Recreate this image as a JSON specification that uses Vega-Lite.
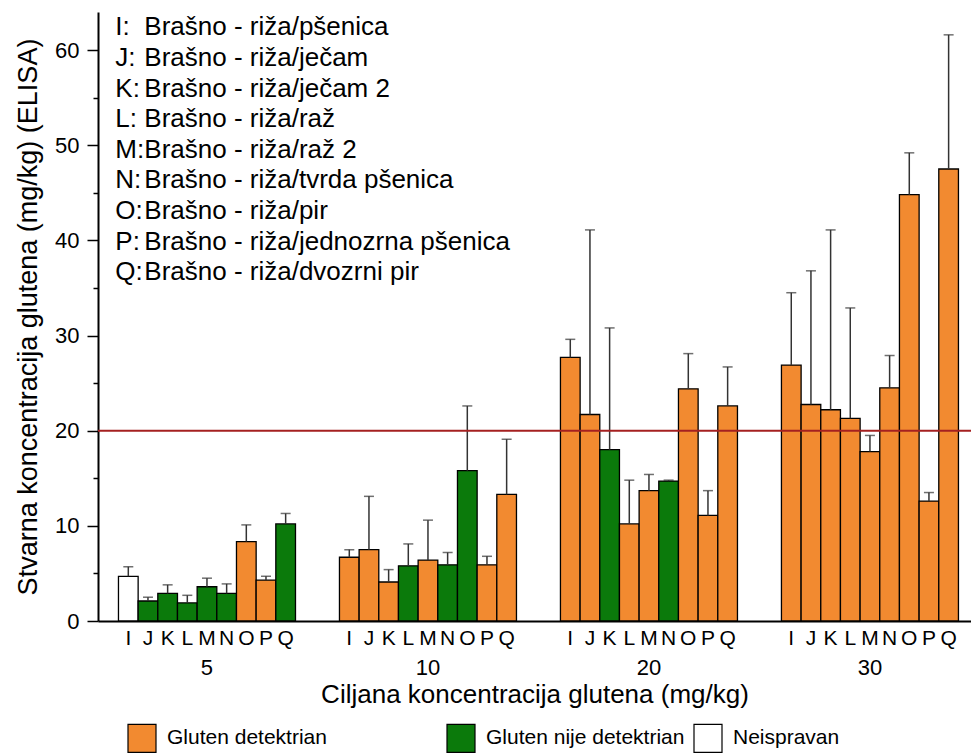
{
  "$schema": "https://vega.github.io/schema/vega-lite/v6.json",
  "width": 873,
  "height": 609,
  "autosize": "none",
  "padding": {"left": 98, "top": 12, "right": 0, "bottom": 132},
  "background": "white",
  "config": {"font": "Liberation Sans", "view": {"stroke": null}},
  "datasets": {
    "bars": [
      {"target": 5, "letter": "I", "value": 4.7, "upper": 5.7, "status": "Neispravan"},
      {"target": 5, "letter": "J", "value": 2.1, "upper": 2.5, "status": "Gluten nije detektrian"},
      {"target": 5, "letter": "K", "value": 2.9, "upper": 3.8, "status": "Gluten nije detektrian"},
      {"target": 5, "letter": "L", "value": 1.9, "upper": 2.7, "status": "Gluten nije detektrian"},
      {"target": 5, "letter": "M", "value": 3.6, "upper": 4.5, "status": "Gluten nije detektrian"},
      {"target": 5, "letter": "N", "value": 2.9, "upper": 3.9, "status": "Gluten nije detektrian"},
      {"target": 5, "letter": "O", "value": 8.35, "upper": 10.1, "status": "Gluten detektrian"},
      {"target": 5, "letter": "P", "value": 4.3, "upper": 4.7, "status": "Gluten detektrian"},
      {"target": 5, "letter": "Q", "value": 10.2, "upper": 11.3, "status": "Gluten nije detektrian"},
      {"target": 10, "letter": "I", "value": 6.7, "upper": 7.5, "status": "Gluten detektrian"},
      {"target": 10, "letter": "J", "value": 7.5, "upper": 13.1, "status": "Gluten detektrian"},
      {"target": 10, "letter": "K", "value": 4.1, "upper": 5.4, "status": "Gluten detektrian"},
      {"target": 10, "letter": "L", "value": 5.8, "upper": 8.1, "status": "Gluten nije detektrian"},
      {"target": 10, "letter": "M", "value": 6.4, "upper": 10.6, "status": "Gluten detektrian"},
      {"target": 10, "letter": "N", "value": 5.9, "upper": 7.2, "status": "Gluten nije detektrian"},
      {"target": 10, "letter": "O", "value": 15.8, "upper": 22.6, "status": "Gluten nije detektrian"},
      {"target": 10, "letter": "P", "value": 5.9, "upper": 6.8, "status": "Gluten detektrian"},
      {"target": 10, "letter": "Q", "value": 13.3, "upper": 19.1, "status": "Gluten detektrian"},
      {"target": 20, "letter": "I", "value": 27.7, "upper": 29.6, "status": "Gluten detektrian"},
      {"target": 20, "letter": "J", "value": 21.7, "upper": 41.1, "status": "Gluten detektrian"},
      {"target": 20, "letter": "K", "value": 18.0, "upper": 30.8, "status": "Gluten nije detektrian"},
      {"target": 20, "letter": "L", "value": 10.2, "upper": 14.8, "status": "Gluten detektrian"},
      {"target": 20, "letter": "M", "value": 13.7, "upper": 15.4, "status": "Gluten detektrian"},
      {"target": 20, "letter": "N", "value": 14.7, "upper": 14.8, "status": "Gluten nije detektrian"},
      {"target": 20, "letter": "O", "value": 24.4, "upper": 28.1, "status": "Gluten detektrian"},
      {"target": 20, "letter": "P", "value": 11.1, "upper": 13.7, "status": "Gluten detektrian"},
      {"target": 20, "letter": "Q", "value": 22.6, "upper": 26.7, "status": "Gluten detektrian"},
      {"target": 30, "letter": "I", "value": 26.9, "upper": 34.5, "status": "Gluten detektrian"},
      {"target": 30, "letter": "J", "value": 22.75, "upper": 36.8, "status": "Gluten detektrian"},
      {"target": 30, "letter": "K", "value": 22.2, "upper": 41.1, "status": "Gluten detektrian"},
      {"target": 30, "letter": "L", "value": 21.3, "upper": 32.9, "status": "Gluten detektrian"},
      {"target": 30, "letter": "M", "value": 17.8, "upper": 19.5, "status": "Gluten detektrian"},
      {"target": 30, "letter": "N", "value": 24.5, "upper": 27.9, "status": "Gluten detektrian"},
      {"target": 30, "letter": "O", "value": 44.8, "upper": 49.2, "status": "Gluten detektrian"},
      {"target": 30, "letter": "P", "value": 12.6, "upper": 13.5, "status": "Gluten detektrian"},
      {"target": 30, "letter": "Q", "value": 47.5, "upper": 61.6, "status": "Gluten detektrian"}
    ],
    "notes": [
      {"row": 0, "tag": "I:", "desc": "Brašno - riža/pšenica"},
      {"row": 1, "tag": "J:", "desc": "Brašno - riža/ječam"},
      {"row": 2, "tag": "K:", "desc": "Brašno - riža/ječam 2"},
      {"row": 3, "tag": "L:", "desc": "Brašno - riža/raž"},
      {"row": 4, "tag": "M:", "desc": "Brašno - riža/raž 2"},
      {"row": 5, "tag": "N:", "desc": "Brašno - riža/tvrda pšenica"},
      {"row": 6, "tag": "O:", "desc": "Brašno - riža/pir"},
      {"row": 7, "tag": "P:", "desc": "Brašno - riža/jednozrna pšenica"},
      {"row": 8, "tag": "Q:", "desc": "Brašno - riža/dvozrni pir"}
    ],
    "limit": [{"limit": 20}]
  },
  "layer": [
    {
      "layer": [
        {
          "data": {"name": "bars"},
          "mark": {"type": "bar", "stroke": "black", "strokeWidth": 1.3},
          "encoding": {
            "x": {
              "field": "target", "type": "ordinal",
              "scale": {"domain": [5, 10, 20, 30], "paddingInner": 0.199, "paddingOuter": 0.0747, "align": 0.62},
              "axis": {
                "title": "Ciljana koncentracija glutena (mg/kg)",
                "ticks": false, "labelAngle": 0, "labelPadding": 36,
                "labelFontSize": 22, "labelColor": "black",
                "domainColor": "black", "domainWidth": 2,
                "titleFontSize": 26, "titleFontWeight": "normal", "titleColor": "black", "titlePadding": 3
              }
            },
            "xOffset": {"field": "letter", "type": "nominal", "scale": {"domain": ["I","J","K","L","M","N","O","P","Q"], "paddingInner": 0, "paddingOuter": 0}},
            "y": {
              "field": "value", "type": "quantitative",
              "scale": {"domain": [0, 64], "nice": false},
              "axis": {
                "values": [0,5,10,15,20,25,30,35,40,45,50,55,60],
                "labelExpr": "datum.value % 10 === 0 ? datum.label : ''",
                "tickSize": {"condition": {"test": "datum.value % 10 === 0", "value": 11}, "value": 5},
                "tickColor": "black", "tickWidth": 1.5,
                "domainColor": "black", "domainWidth": 2,
                "labelFontSize": 22, "labelColor": "black", "labelPadding": 8,
                "grid": false,
                "title": "Stvarna koncentracija glutena (mg/kg) (ELISA)",
                "titleFontSize": 27, "titleFontWeight": "normal", "titleColor": "black", "titlePadding": 12
              }
            },
            "color": {
              "field": "status", "type": "nominal",
              "scale": {"domain": ["Gluten detektrian", "Gluten nije detektrian", "Neispravan"], "range": ["#F28A30", "#0B7A0B", "#FFFFFF"]},
              "legend": {
                "orient": "none", "legendX": 29, "legendY": 711,
                "direction": "horizontal", "title": null,
                "symbolType": "square", "symbolSize": 784, "symbolStrokeColor": "black", "symbolStrokeWidth": 1.2, "symbolOpacity": 1,
                "labelFontSize": 21, "labelColor": "black", "labelOffset": 10, "labelLimit": 0, "columnPadding": 6,
                "labelExpr": "datum.value === 'Gluten detektrian' ? datum.label + '\u00a0\u00a0\u00a0\u00a0\u00a0\u00a0\u00a0\u00a0\u00a0\u00a0\u00a0\u00a0\u00a0\u00a0\u00a0\u00a0\u00a0\u00a0\u00a0\u200b' : datum.label"
              }
            }
          }
        },
        {
          "data": {"name": "bars"},
          "mark": {"type": "rule", "color": "#333333", "strokeWidth": 1.5},
          "encoding": {
            "x": {"field": "target", "type": "ordinal"},
            "xOffset": {"field": "letter", "type": "nominal"},
            "y": {"field": "value", "type": "quantitative"},
            "y2": {"field": "upper"}
          }
        },
        {
          "data": {"name": "bars"},
          "mark": {"type": "tick", "color": "#333333", "thickness": 1.5, "size": 10},
          "encoding": {
            "x": {"field": "target", "type": "ordinal"},
            "xOffset": {"field": "letter", "type": "nominal"},
            "y": {"field": "upper", "type": "quantitative"}
          }
        },
        {
          "data": {"name": "bars"},
          "mark": {"type": "text", "baseline": "top", "dy": 7, "fontSize": 21, "color": "black"},
          "encoding": {
            "x": {"field": "target", "type": "ordinal"},
            "xOffset": {"field": "letter", "type": "nominal"},
            "y": {"datum": 0, "type": "quantitative"},
            "text": {"field": "letter"}
          }
        },
        {
          "data": {"name": "limit"},
          "mark": {"type": "rule", "color": "#A52020", "strokeWidth": 2},
          "encoding": {
            "y": {"field": "limit", "type": "quantitative"}
          }
        }
      ]
    },
    {
      "data": {"name": "notes"},
      "encoding": {
        "x": {"datum": 5, "type": "ordinal"},
        "xOffset": {"datum": "I", "type": "nominal"},
        "y": {"field": "row", "type": "quantitative", "scale": {"domain": [-0.5, 19.4], "reverse": true, "nice": false, "zero": false}, "axis": null}
      },
      "layer": [
        {
          "mark": {"type": "text", "align": "left", "baseline": "middle", "fontSize": 26, "dx": -13, "color": "black"},
          "encoding": {"text": {"field": "tag"}}
        },
        {
          "mark": {"type": "text", "align": "left", "baseline": "middle", "fontSize": 26, "dx": 16, "color": "black"},
          "encoding": {"text": {"field": "desc"}}
        }
      ]
    }
  ],
  "resolve": {"scale": {"y": "independent"}}
}
